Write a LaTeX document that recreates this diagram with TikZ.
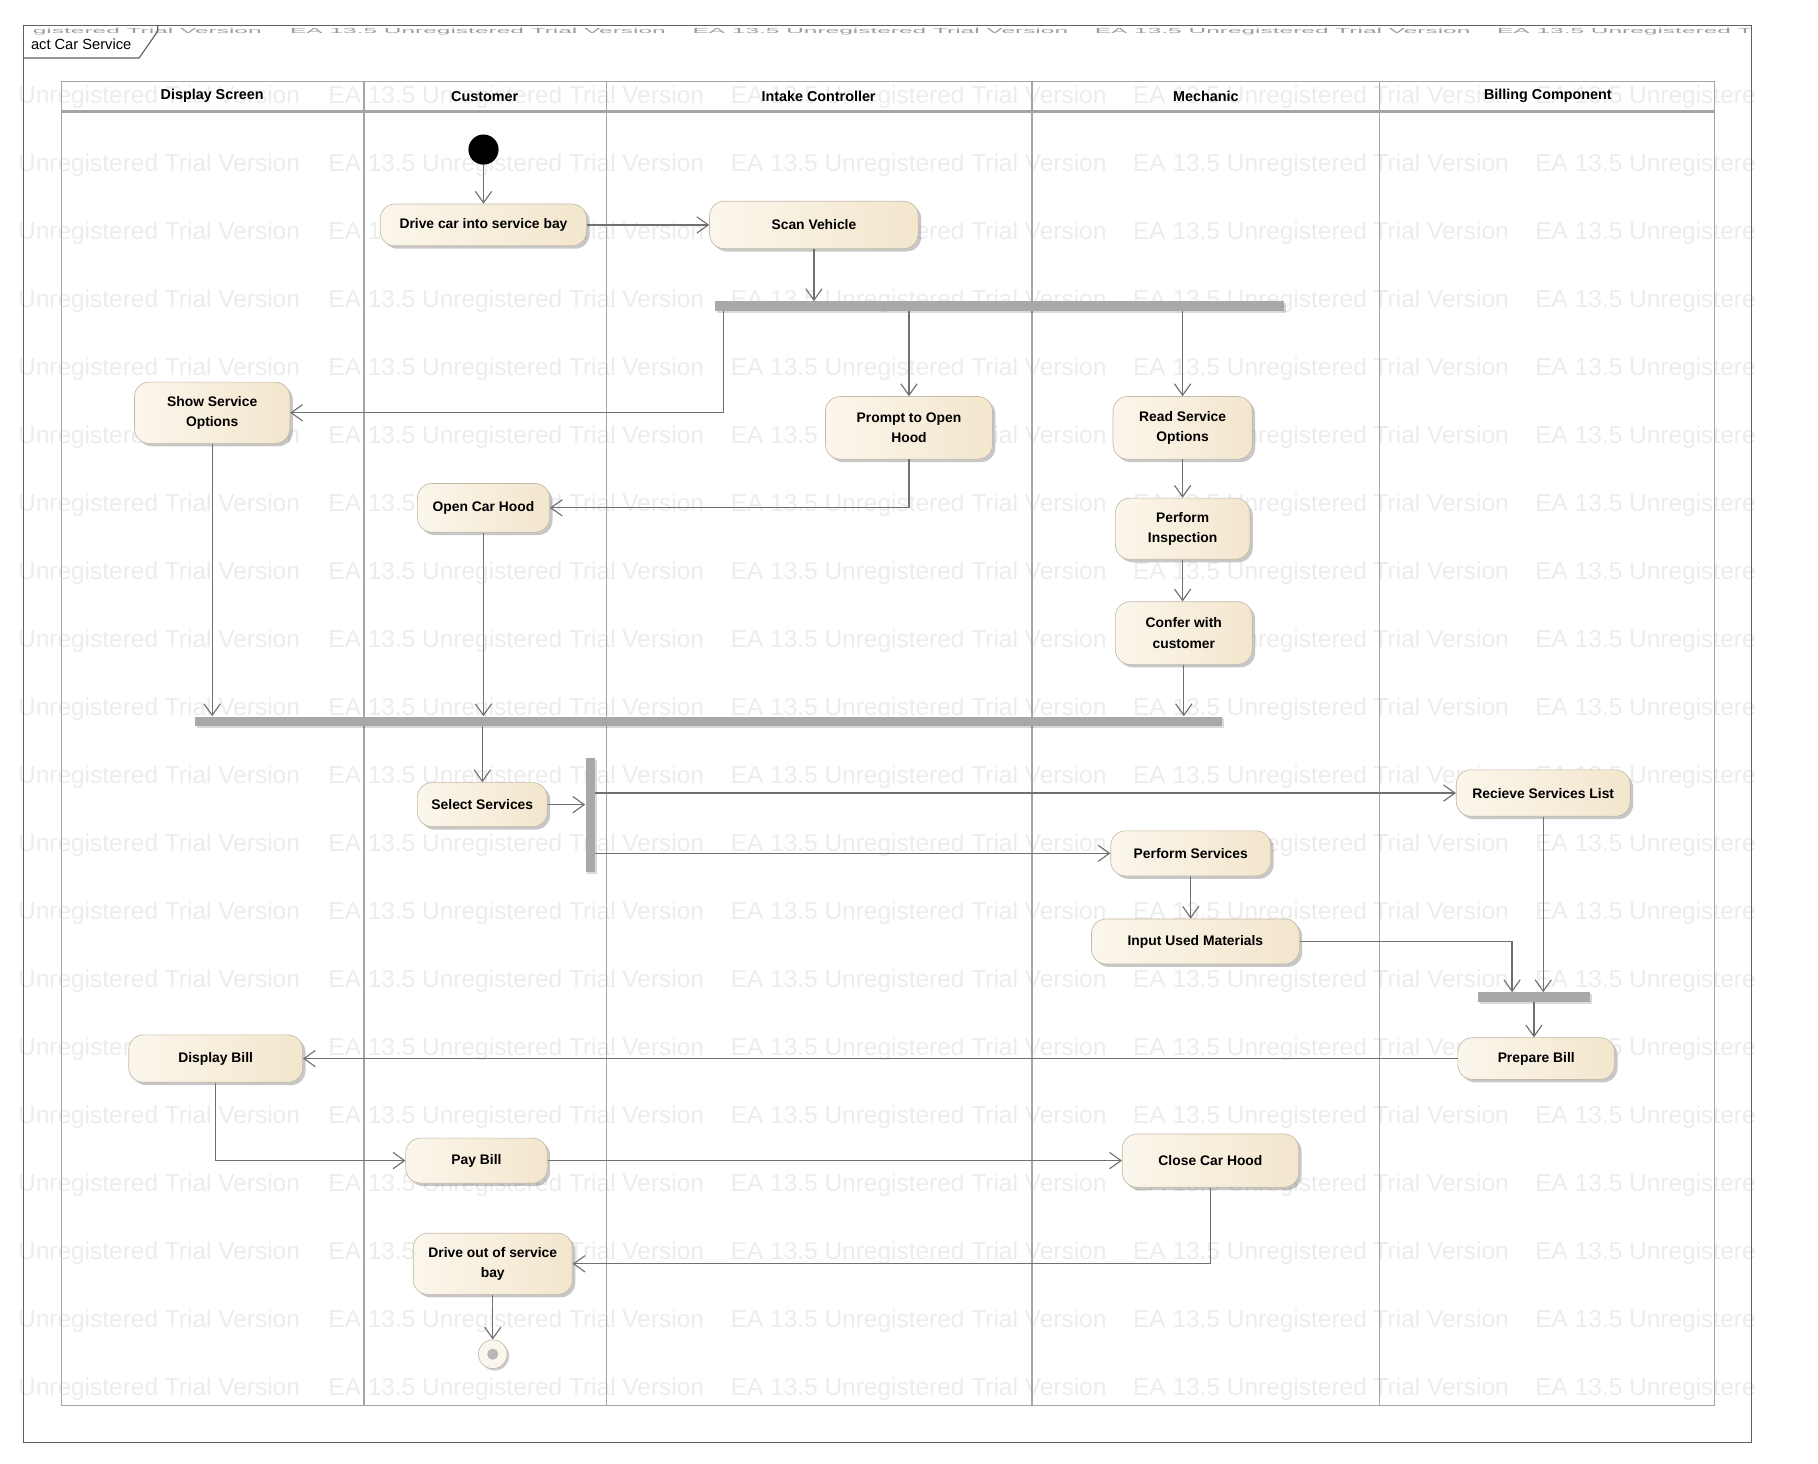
\documentclass[tikz,border=0pt]{standalone}
\usepackage{fontspec}
\setmainfont{Liberation Sans}
\usetikzlibrary{arrows.meta,shadows,calc}
\definecolor{actfillA}{RGB}{251,246,236}
\definecolor{actfillB}{RGB}{243,230,205}
\definecolor{actborder}{RGB}{196,186,168}
\definecolor{lanegray}{RGB}{165,165,165}
\definecolor{flowgray}{RGB}{112,112,112}
\definecolor{bargray}{RGB}{168,168,168}
\definecolor{wmgray}{RGB}{236,236,236}
\tikzset{
  action/.style={draw=actborder,rounded corners=9pt,left color=actfillA,right color=actfillB,
    drop shadow={shadow xshift=1.8pt,shadow yshift=-1.8pt,fill=black,opacity=0.22},
    font=\fontsize{8.5}{12.5}\selectfont\bfseries,align=center,inner sep=0pt},
  syncbar/.style={fill=bargray,draw=none,inner sep=0pt,
    drop shadow={shadow xshift=1.2pt,shadow yshift=-1.2pt,fill=black,opacity=0.15}},
  flow/.style={draw=flowgray,line width=0.7pt,-{Straight Barb[length=7pt,width=10pt]}},
  lanehead/.style={font=\fontsize{8.8}{10}\selectfont\bfseries,inner sep=0pt},
  watermark/.style={font=\fontsize{15}{15}\selectfont,text=wmgray,inner sep=0pt},
}
\begin{document}
\begin{tikzpicture}[x=0.025cm,y=-0.025cm]
\useasboundingbox (0,0) rectangle (1568,1262);
% trial watermark behind the diagram
\foreach \r in {0,...,19}{
  \node[watermark,anchor=east] (wmhead-\r) at (259,{84+58.65*\r}) {Unregistered Trial Version};
  \foreach \k in {0,1,2}
    \node[watermark,anchor=west] (wm-\r-\k) at ({283+347*\k},{84+58.65*\r}) {EA 13.5 Unregistered Trial Version};
  \node[watermark,anchor=west] (wmtail-\r) at (1324,{84+58.65*\r}) {EA 13.5 Unregistere};
}
\node[watermark,text=black!38,anchor=east] (wmtop-h) at (226,27) {\scalebox{1}[0.3]{gistered Trial Version}};
\foreach \k in {0,1,2}
  \node[watermark,text=black!38,anchor=west] (wmtop-\k) at ({250+347*\k},27)
    {\scalebox{1}[0.3]{EA 13.5 Unregistered Trial Version}};
\node[watermark,text=black!38,anchor=west] (wmtop-t) at (1291,27) {\scalebox{1}[0.3]{EA 13.5 Unregistered T}};
% frame and tab
\draw[gray!75!black,line width=0.7pt] (20,22) rectangle (1511,1244);
\draw[gray!75!black,line width=0.7pt] (20,50) -- (120,50) -- (136,27) -- (136,22);
\node[font=\fontsize{9}{10}\selectfont,inner sep=0pt] (title) at (70,38) {act Car Service};
% swimlanes
\draw[lanegray,line width=0.8pt] (53,70) rectangle (1479,1212);
\foreach \x in {314,523,890,1190}
  \draw[lanegray,line width=0.8pt] (\x,70) -- (\x,1212);
\draw[lanegray,line width=1.5pt] (53,96) -- (1479,96);
\node[lanehead] (hdisplay) at (183,83) {Display Screen};
\node[lanehead] (hcustomer) at (418,83) {Customer};
\node[lanehead] (hintake) at (706,83) {Intake Controller};
\node[lanehead] (hmechanic) at (1040,83) {Mechanic};
\node[lanehead] (hbilling) at (1335,83) {Billing Component};
% activities
\node[circle,fill=black,minimum size=0.65cm,inner sep=0pt] (start) at (417,129) {};
\node[action,minimum width=4.45cm,minimum height=0.9cm] (drivein) at (417,194) {Drive car into service bay};
\node[action,minimum width=4.5cm,minimum height=1.02cm] (scan) at (702,194) {Scan Vehicle};
\node[syncbar,minimum width=12.28cm,minimum height=0.2cm] (fork1) at (862,264) {};
\node[action,minimum width=3.35cm,minimum height=1.32cm] (showopt) at (183,356) {Show Service\\Options};
\node[action,minimum width=3.6cm,minimum height=1.35cm] (prompt) at (784,369) {Prompt to Open\\Hood};
\node[action,minimum width=3.0cm,minimum height=1.35cm] (readopt) at (1020,369) {Read Service\\Options};
\node[action,minimum width=2.85cm,minimum height=1.05cm] (openhood) at (417,438) {Open Car Hood};
\node[action,minimum width=2.9cm,minimum height=1.32cm] (inspect) at (1020,456) {Perform\\Inspection};
\node[action,minimum width=2.95cm,minimum height=1.35cm] (confer) at (1021,546) {Confer with\\customer};
\node[syncbar,minimum width=22.15cm,minimum height=0.2cm] (join2) at (611,622) {};
\node[action,minimum width=2.8cm,minimum height=0.95cm] (select) at (416,694) {Select Services};
\node[syncbar,minimum width=0.2cm,minimum height=2.45cm] (fork3) at (509,703) {};
\node[action,minimum width=3.75cm,minimum height=1.0cm] (receive) at (1331,684) {Recieve Services List};
\node[action,minimum width=3.45cm,minimum height=0.97cm] (perform) at (1027,736) {Perform Services};
\node[action,minimum width=4.48cm,minimum height=0.97cm] (input) at (1031,812) {Input Used Materials};
\node[syncbar,minimum width=2.43cm,minimum height=0.2cm] (join4) at (1323,860) {};
\node[action,minimum width=3.38cm,minimum height=0.9cm] (prepare) at (1325,913) {Prepare Bill};
\node[action,minimum width=3.75cm,minimum height=1.02cm] (dispbill) at (186,913) {Display Bill};
\node[action,minimum width=3.05cm,minimum height=0.97cm] (paybill) at (411,1001) {Pay Bill};
\node[action,minimum width=3.8cm,minimum height=1.15cm] (closehood) at (1044,1001) {Close Car Hood};
\node[action,minimum width=3.43cm,minimum height=1.32cm] (driveout) at (425,1090) {Drive out of service\\bay};
\node[circle,draw=actborder,fill=actfillA,minimum size=0.62cm,inner sep=0pt,
  drop shadow={shadow xshift=1.2pt,shadow yshift=-1.2pt,fill=black,opacity=0.2}] (finish) at (425,1168) {};
\node[circle,fill=lanegray!80,minimum size=0.24cm,inner sep=0pt] (finishdot) at (finish) {};
% control flows
\draw[flow] (start.south) -- (drivein.north);
\draw[flow] (drivein.east) -- (drivein.east -| scan.west);
\draw[flow] (scan.south) -- (scan.south |- fork1.north);
\draw[flow] ($(fork1.south west)+(8,0)$) |- (showopt.east);
\draw[flow] (prompt.north |- fork1.south) -- (prompt.north);
\draw[flow] (readopt.north |- fork1.south) -- (readopt.north);
\draw[flow] (prompt.south) |- (openhood.east);
\draw[flow] (readopt.south) -- (inspect.north);
\draw[flow] (inspect.south) -- (inspect.south |- confer.north);
\draw[flow] (confer.south) -- (confer.south |- join2.north);
\draw[flow] (showopt.south) -- (showopt.south |- join2.north);
\draw[flow] (openhood.south) -- (openhood.south |- join2.north);
\draw[flow] (select.north |- join2.south) -- (select.north);
\draw[flow] (select.east) -- (select.east -| fork3.west);
\draw[flow] (fork3.east |- receive.west) -- (receive.west);
\draw[flow] (fork3.east |- perform.west) -- (perform.west);
\draw[flow] (perform.south) -- (perform.south |- input.north);
\draw[flow] (input.east) -| ($(join4.north west)+(30,0)$);
\draw[flow] (receive.south) -- (receive.south |- join4.north);
\draw[flow] (join4.south) -- (join4.south |- prepare.north);
\draw[flow] (prepare.west) -- (prepare.west -| dispbill.east);
\draw[flow] (dispbill.south) |- (paybill.west);
\draw[flow] (paybill.east) -- (paybill.east -| closehood.west);
\draw[flow] (closehood.south) |- (driveout.east);
\draw[flow] (driveout.south) -- (finish.north);
\end{tikzpicture}
\end{document}
